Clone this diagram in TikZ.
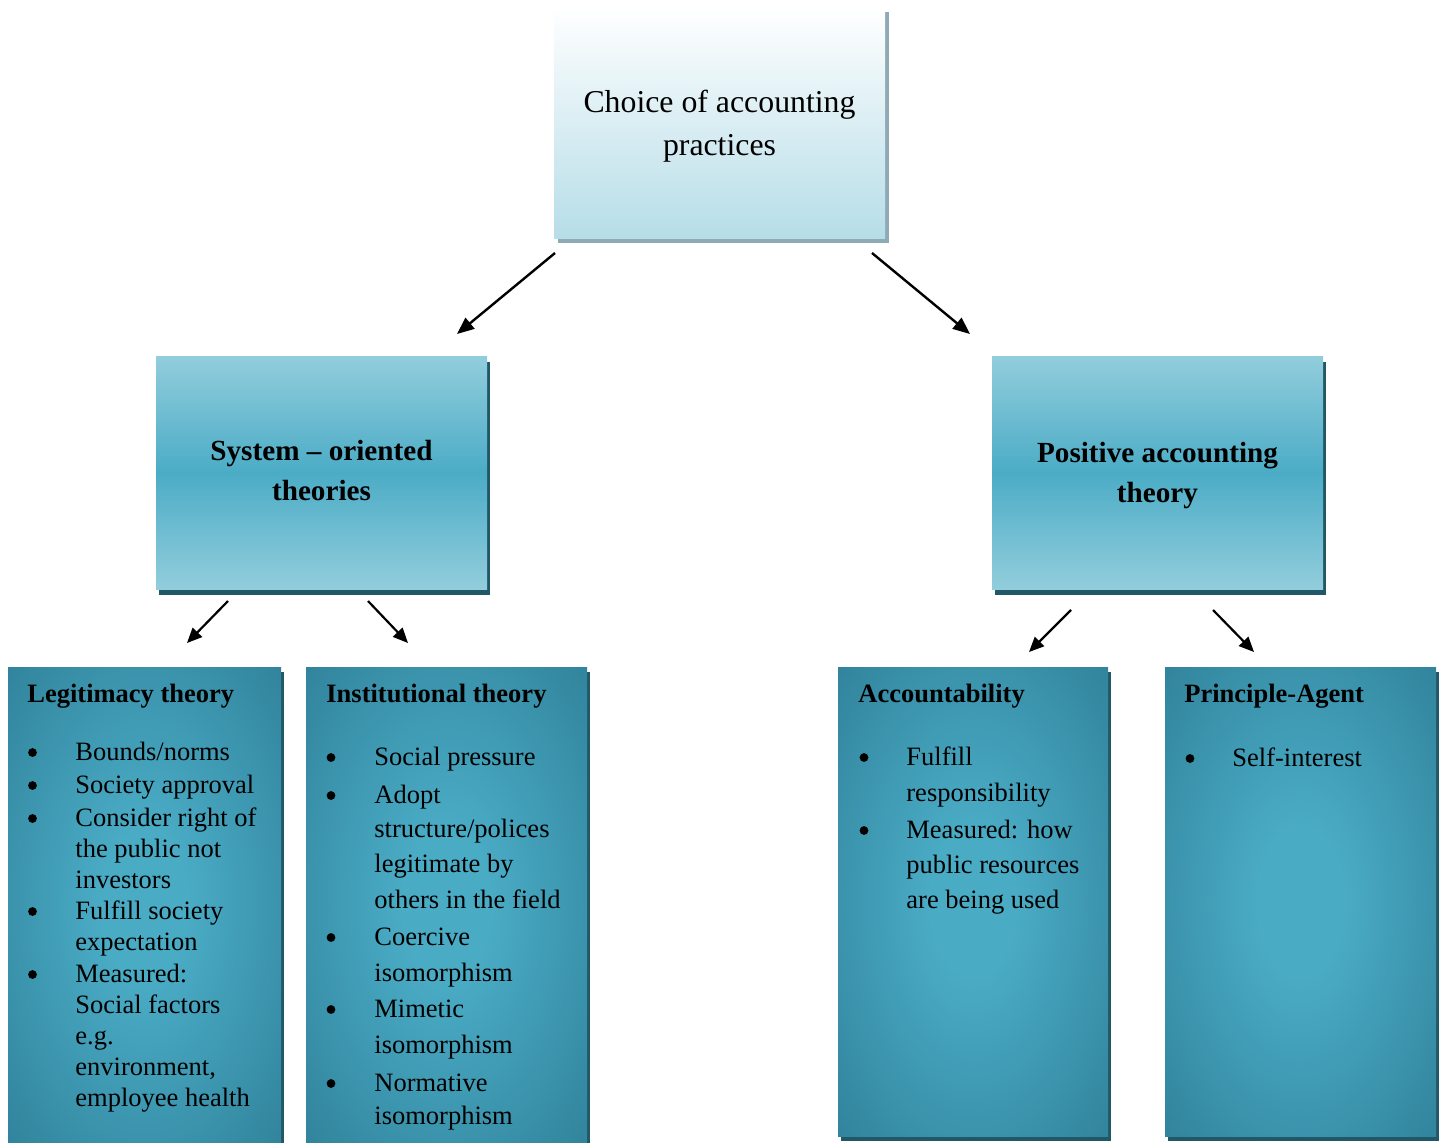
\documentclass[tikz,border=0pt]{standalone}
\usepackage{fontspec}
\setmainfont{Liberation Serif}
\usetikzlibrary{arrows.meta,shadows}
\definecolor{topbot}{RGB}{182,221,232}
\definecolor{topshadow}{RGB}{143,170,181}
\definecolor{midedge}{RGB}{146,205,220}
\definecolor{midcen}{RGB}{75,172,198}
\definecolor{darkshadow}{RGB}{33,88,104}
\definecolor{botedge}{RGB}{47,128,152}
\definecolor{botcen}{RGB}{74,171,197}
\pgfdeclareradialshading{tealglow}{\pgfpoint{0bp}{0bp}}{color(0bp)=(botcen); color(8bp)=(botcen); color(38bp)=(botedge); color(72bp)=(botedge)}
\tikzset{
  topbox/.style={rectangle, inner sep=0pt, minimum width=165.5pt, minimum height=115.5pt,
    top color=white, bottom color=topbot,
    general shadow={fill=topshadow, shadow xshift=2pt, shadow yshift=-2.5pt}},
  toptext/.style={inner sep=0pt, align=center, font=\fontsize{15.9pt}{21.5pt}\selectfont},
  midbox/.style={rectangle, inner sep=0pt, minimum width=165.5pt, minimum height=116.5pt,
    top color=midedge, bottom color=midedge, middle color=midcen,
    general shadow={fill=darkshadow, shadow xshift=1.25pt, shadow yshift=-2.75pt}},
  midtext/.style={inner sep=0pt, align=center, font=\bfseries\fontsize{14.6pt}{20pt}\selectfont},
  lowbox/.style={rectangle, inner sep=0pt, shading=tealglow,
    general shadow={fill=darkshadow, shadow xshift=1.5pt, shadow yshift=-2.5pt}},
  head/.style={anchor=base west, inner sep=0pt, font=\bfseries\fontsize{13.25pt}{15pt}\selectfont},
  item/.style={anchor=base west, inner sep=0pt, font=\fontsize{13.25pt}{15pt}\selectfont},
  bul/.style={circle, fill=black, inner sep=0pt, minimum size=4.4pt, yshift=3.75pt},
  bigarr/.style={line width=1.2pt, -{Triangle[length=8.5pt,width=7pt]}},
  smallarr/.style={line width=1.1pt, -{Triangle[length=7.5pt,width=6.5pt]}}
}
\begin{document}
\begin{tikzpicture}[x=0.5pt,y=-0.5pt]
\useasboundingbox (0,0) rectangle (1445,1142);

% boxes
\node[topbox] (top) at (719.5,122.5) {};
\node[toptext] (toplbl) at (719.5,126.5) {Choice of accounting\\practices};
\node[midbox] (sys) at (321.5,472.5) {};
\node[midtext] (syslbl) at (321.5,470) {System -- oriented\\theories};
\node[midbox] (pos) at (1157.5,472.5) {};
\node[midtext] (poslbl) at (1157.5,476) {Positive accounting\\theory};
\node[lowbox, minimum width=136.5pt, minimum height=237.5pt] (leg) at (144.5,904.5) {};
\node[lowbox, minimum width=140.5pt, minimum height=237.5pt] (inst) at (446.5,904.5) {};
\node[lowbox, minimum width=135pt, minimum height=234.5pt] (acc) at (973,901.5) {};
\node[lowbox, minimum width=135.5pt, minimum height=234.5pt] (pa) at (1300.5,901.5) {};

% arrow end points
\coordinate (a1s) at (555,253);  \coordinate (a1e) at (457,334);
\coordinate (a2s) at (872,253);  \coordinate (a2e) at (970,334);
\coordinate (a3s) at (228,601);  \coordinate (a3e) at (187,643);
\coordinate (a4s) at (368,601);  \coordinate (a4e) at (408,643);
\coordinate (a5s) at (1071,610); \coordinate (a5e) at (1029,652);
\coordinate (a6s) at (1213,610); \coordinate (a6e) at (1254,652);
\draw[bigarr] (a1s) -- (a1e);
\draw[bigarr] (a2s) -- (a2e);
\draw[smallarr] (a3s) -- (a3e);
\draw[smallarr] (a4s) -- (a4e);
\draw[smallarr] (a5s) -- (a5e);
\draw[smallarr] (a6s) -- (a6e);

% Legitimacy theory
\node[head] (legh) at (27,702) {Legitimacy theory};
\node[bul] (legb1) at (32.5,760) {};
\node[item] (leg1) at (75,760) {Bounds/norms};
\node[bul] (legb2) at (32.5,793) {};
\node[item] (leg2) at (75,793) {Society approval};
\node[bul] (legb3) at (32.5,826) {};
\node[item] (leg3) at (75,826) {Consider right of};
\node[item] (leg4) at (75,857) {the public not};
\node[item] (leg5) at (75,888) {investors};
\node[bul] (legb4) at (32.5,919) {};
\node[item] (leg6) at (75,919) {Fulfill society};
\node[item] (leg7) at (75,950) {expectation};
\node[bul] (legb5) at (32.5,982) {};
\node[item] (leg8) at (75,982) {Measured:};
\node[item] (leg9) at (75,1013) {Social factors};
\node[item] (leg10) at (75,1044) {e.g.};
\node[item] (leg11) at (75,1075) {environment,};
\node[item] (leg12) at (75,1106) {employee health};

% Institutional theory
\node[head] (insth) at (326,702) {Institutional theory};
\node[bul] (instb1) at (331,765) {};
\node[item] (inst1) at (374,765) {Social pressure};
\node[bul] (instb2) at (331,803) {};
\node[item] (inst2) at (374,803) {Adopt};
\node[item] (inst3) at (374,837) {structure/polices};
\node[item] (inst4) at (374,872) {legitimate by};
\node[item] (inst5) at (374,908) {others in the field};
\node[bul] (instb3) at (331,945) {};
\node[item] (inst6) at (374,945) {Coercive};
\node[item] (inst7) at (374,981) {isomorphism};
\node[bul] (instb4) at (331,1017) {};
\node[item] (inst8) at (374,1017) {Mimetic};
\node[item] (inst9) at (374,1053) {isomorphism};
\node[bul] (instb5) at (331,1091) {};
\node[item] (inst10) at (374,1091) {Normative};
\node[item] (inst11) at (374,1124) {isomorphism};

% Accountability
\node[head] (acch) at (858,702) {Accountability};
\node[bul] (accb1) at (864,765) {};
\node[item] (acc1) at (906,765) {Fulfill};
\node[item] (acc2) at (906,801) {responsibility};
\node[bul] (accb2) at (864,838) {};
\node[item] (acc3) at (906,838) {Measured: how};
\node[item] (acc4) at (906,873) {public resources};
\node[item] (acc5) at (906,908) {are being used};

% Principle-Agent
\node[head] (pah) at (1184,702) {Principle-Agent};
\node[bul] (pab1) at (1190,766) {};
\node[item] (pa1) at (1232,766) {Self-interest};
\end{tikzpicture}
\end{document}
